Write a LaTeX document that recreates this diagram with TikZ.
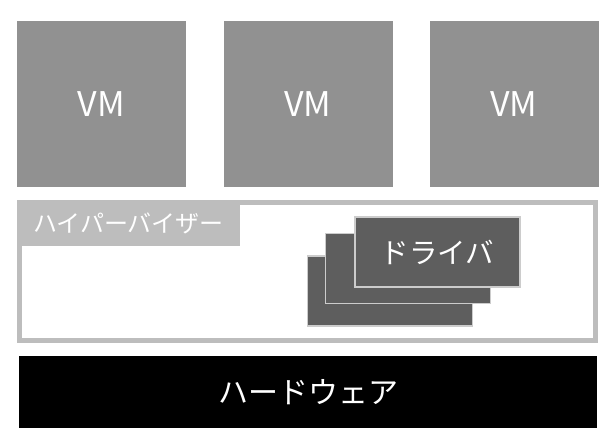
\documentclass[tikz,border=0pt]{standalone}
\usepackage{fontspec}
\setmainfont{Noto Sans CJK JP}

\definecolor{vmgray}{HTML}{919191}
\definecolor{hvgray}{HTML}{BDBDBD}
\definecolor{drvgray}{HTML}{5E5E5E}
\definecolor{drvline}{HTML}{CCCCCC}

\begin{document}
\begin{tikzpicture}[x=1pt,y=-1pt]
   \tikzstyle{every node}=[inner sep=0pt, outer sep=0pt, text=white]
   \tikzstyle{vm}=[fill=vmgray, minimum width=169pt, minimum height=166pt, font=\fontsize{34}{34}\selectfont]
   \tikzstyle{driver}=[draw=drvline, fill=drvgray, line width=1.5pt, minimum width=165pt, minimum height=70pt]

\useasboundingbox (0,0) rectangle (607,442);

% virtual machines
\node[vm] (vm1) at (101.5,104) {VM};
\node[vm] (vm2) at (308,104) {VM};
\node[vm] (vm3) at (514,104) {VM};

% hypervisor
\node[draw=hvgray, line width=5pt, minimum width=576pt, minimum height=138pt] (hv) at (307.5,271.5) {};
\node[fill=hvgray, anchor=north west, minimum width=223pt, minimum height=46pt, font=\fontsize{24}{24}\selectfont] (hvlabel) at (17,200) {ハイパーバイザー};

% drivers
\node[driver] (drv3) at (390,291) {};
\node[driver] (drv2) at (408,268.5) {};
\node[driver, font=\fontsize{28.5}{28.5}\selectfont] (drv1) at (437.5,252) {ドライバ};

% hardware
\node[fill=black, minimum width=578pt, minimum height=72pt, font=\fontsize{30}{30}\selectfont] (hw) at (308,392) {ハードウェア};

\end{tikzpicture}
\end{document}
